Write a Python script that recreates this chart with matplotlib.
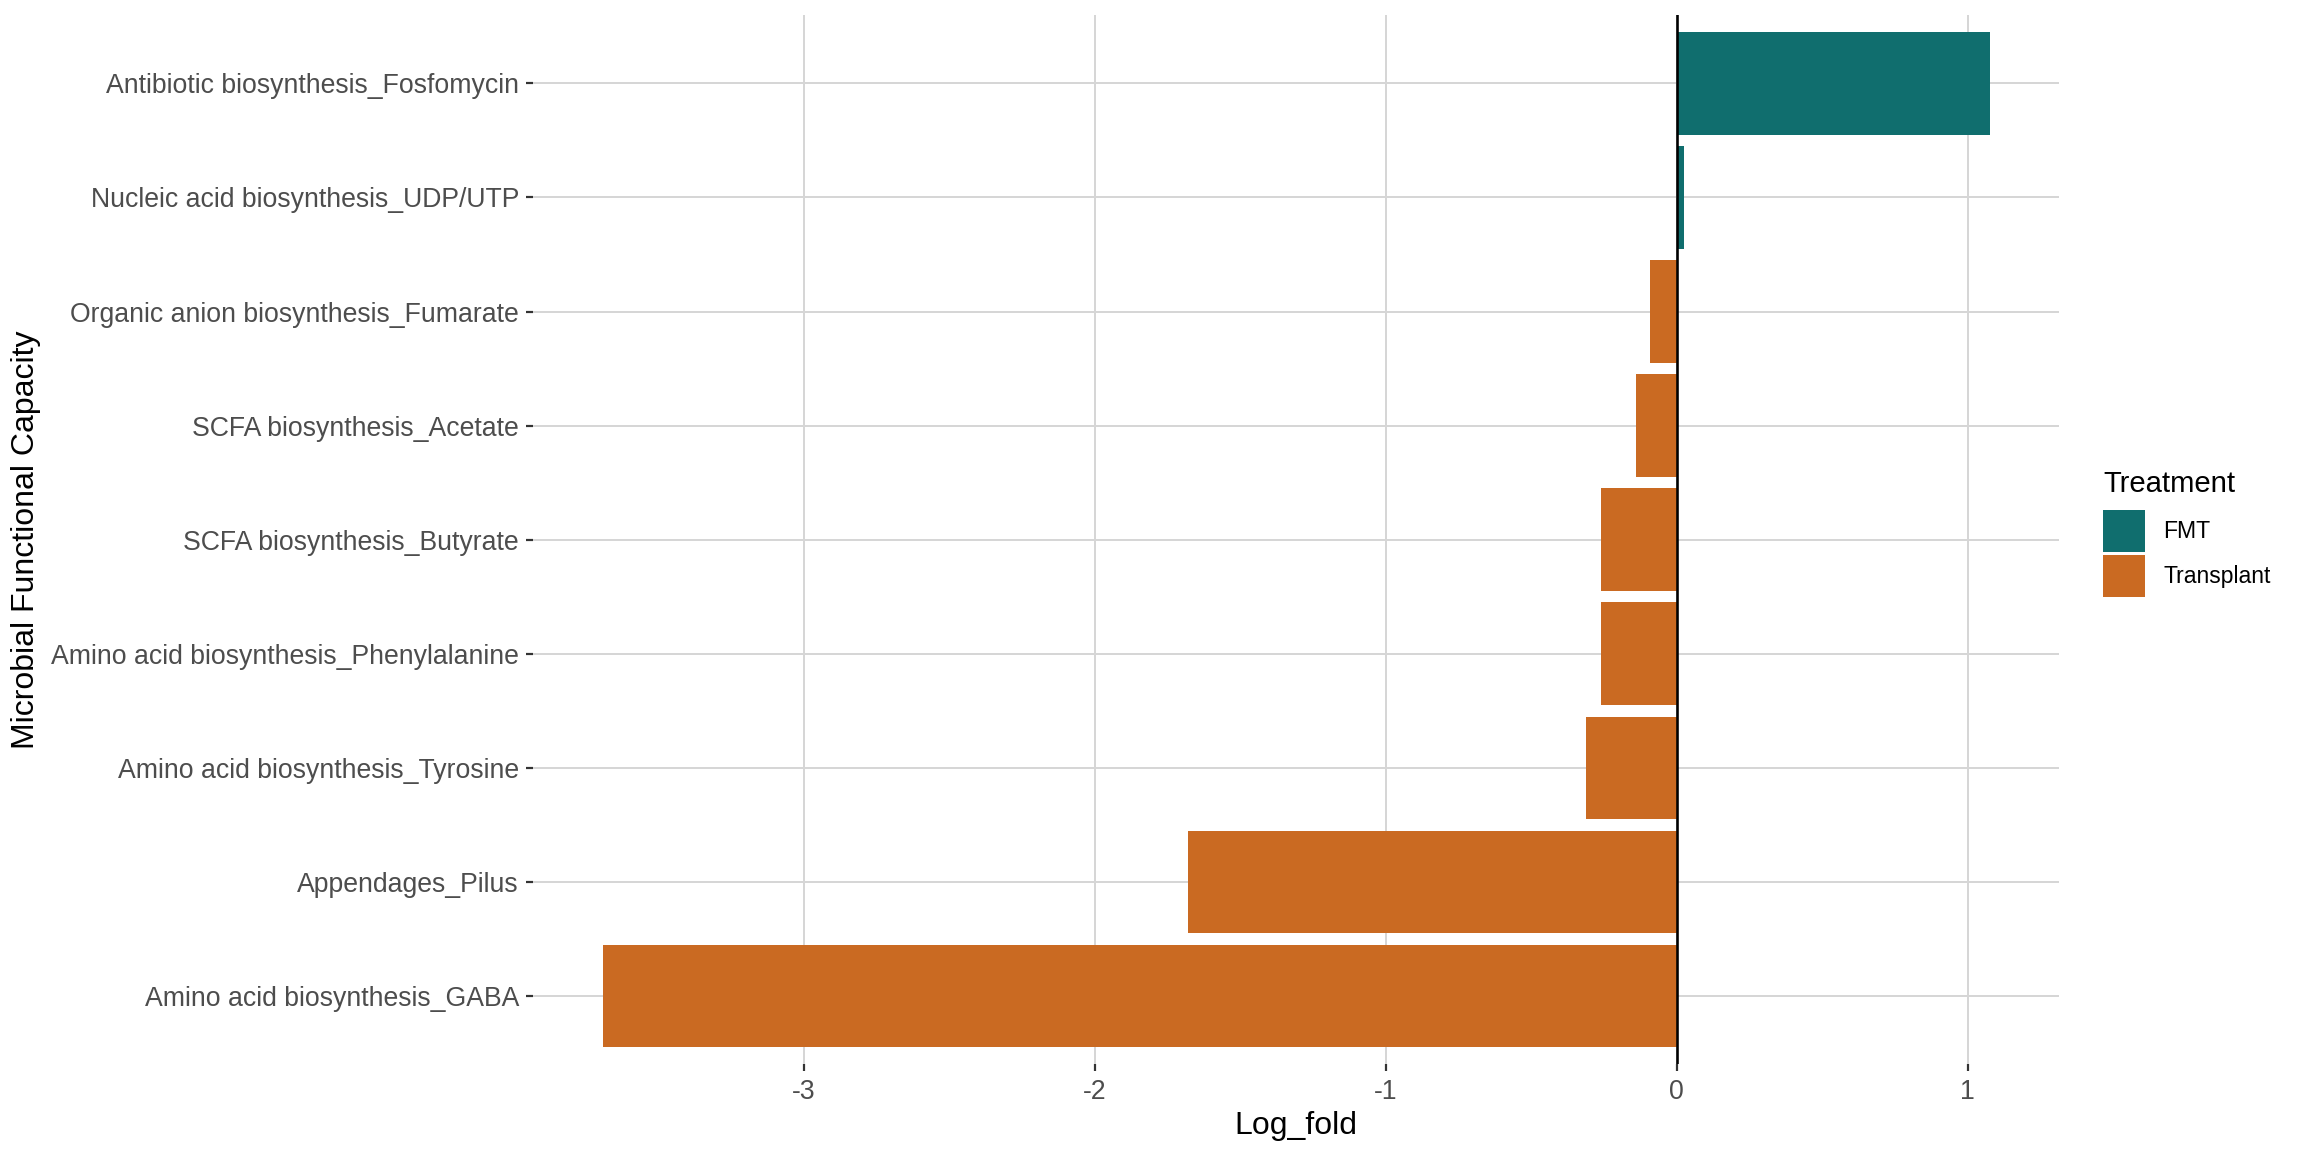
import matplotlib
matplotlib.use("Agg")
import matplotlib.pyplot as plt
from matplotlib.patches import Patch

plt.rcParams["font.family"] = ["Liberation Sans", "DejaVu Sans"]

# --- data (bottom to top, as drawn) ---
categories = [
    "Amino acid biosynthesis_GABA",
    "Appendages_Pilus",
    "Amino acid biosynthesis_Tyrosine",
    "Amino acid biosynthesis_Phenylalanine",
    "SCFA biosynthesis_Butyrate",
    "SCFA biosynthesis_Acetate",
    "Organic anion biosynthesis_Fumarate",
    "Nucleic acid biosynthesis_UDP/UTP",
    "Antibiotic biosynthesis_Fosfomycin",
]
log_fold = [-3.69, -1.68, -0.31, -0.26, -0.26, -0.14, -0.09, 0.026, 1.077]
treatment = ["Transplant", "Transplant", "Transplant", "Transplant", "Transplant",
             "Transplant", "Transplant", "FMT", "FMT"]
colors = {"FMT": "#106E6E", "Transplant": "#CA6A22"}
xticks = [-3, -2, -1, 0, 1]

fig = plt.figure(figsize=(16, 8), dpi=144)
ax = fig.add_axes([0.2313, 0.076, 0.6624, 0.911])

ypos = list(range(1, len(categories) + 1))
ax.barh(ypos, log_fold, height=0.9, color=[colors[t] for t in treatment], zorder=2)
ax.axvline(0, color="black", lw=1.3, zorder=3)

ax.set_xlim(-3.93, 1.314)
ax.set_ylim(0.4, len(categories) + 0.6)
ax.set_yticks(ypos)
ax.set_yticklabels(categories)
ax.set_xticks(xticks)
ax.set_xticklabels([str(v) for v in xticks])

ax.grid(True, color="#d6d6d6", lw=1.0, zorder=0)
ax.set_axisbelow(True)
for s in ax.spines.values():
    s.set_visible(False)
ax.tick_params(axis="both", colors="#333333", labelsize=13.3, length=3.5, width=1.1,
               labelcolor="#4d4d4d")
ax.tick_params(axis="y", pad=3.5)
ax.tick_params(axis="x", pad=4)

fig.text(1296 / 2304, 1 - 1126 / 1152, "Log_fold", fontsize=16, ha="center", va="center")
fig.text(26 / 2304, 0.5 * (0.076 + 0.987), "Microbial Functional Capacity", fontsize=16,
         rotation=90, ha="center", va="center")

# legend keys ~42px square
handles = [Patch(facecolor=colors[k], edgecolor="none", label=k) for k in ["FMT", "Transplant"]]
leg = fig.legend(handles=handles, title="Treatment", loc="upper left",
                 bbox_to_anchor=(2103 / 2304, 1 - 470 / 1152), frameon=False, fontsize=11.5,
                 title_fontsize=14.6, handlelength=1.83, handleheight=2.43,
                 handletextpad=0.78, labelspacing=0.13, borderaxespad=0, borderpad=0)
leg._legend_box.align = "left"
leg._legend_box.sep = 6

fig.savefig("out.png", dpi=144)
